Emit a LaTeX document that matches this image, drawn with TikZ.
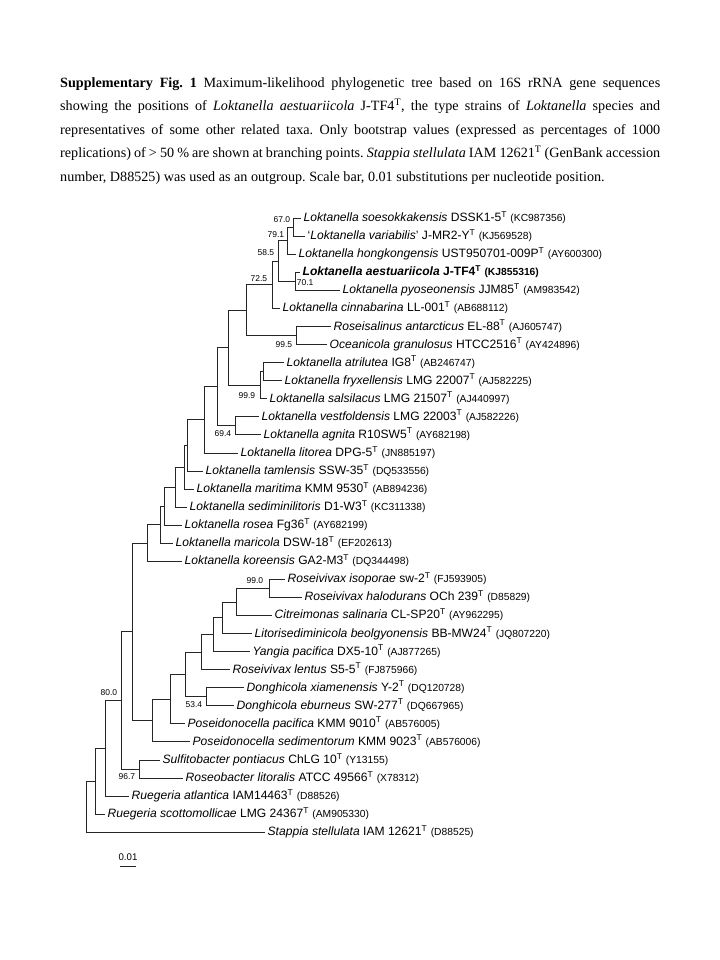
\documentclass[tikz,border=0pt]{standalone}
\usepackage{fontspec}
\setmainfont{Liberation Serif}
\setsansfont{Liberation Sans}
\usetikzlibrary{positioning,calc}

\newcommand{\Ts}{\textsuperscript{T}}
\newcommand{\accno}[1]{{\fontsize{8.5}{9}\selectfont(#1)}}

\begin{document}
\begin{tikzpicture}[
    x=0.8267pt, y=-0.8267pt,
    font=\sffamily\fontsize{10}{12}\selectfont,
    captionNode/.style={
        anchor=north west, inner sep=0pt, text width=496pt, align=justify,
        font=\rmfamily\fontsize{11.7}{19.5}\selectfont
    },
    taxonNode/.style={
        anchor=west, inner xsep=2pt, inner ysep=0pt,
        text height=7.5pt, text depth=1.5pt
    },
    bootLabel/.style={
        inner sep=0.5pt, font=\sffamily\fontsize{7}{8}\selectfont
    },
    branchLine/.style={
        line width=0.5pt, draw=black!85
    }
]
\useasboundingbox (0,0) rectangle (720,960);

% Caption
\node[captionNode] (caption) at (60,77) {\frenchspacing\hyphenpenalty=10000\relax
    \textbf{Supplementary Fig. 1} Maximum-likelihood phylogenetic tree based on 16S rRNA gene sequences\linebreak
    showing the positions of \textit{Loktanella aestuariicola} J-TF4\textsuperscript{T}, the type strains of \textit{Loktanella} species and\linebreak
    representatives of some other related taxa. Only bootstrap values (expressed as percentages of 1000\linebreak
    replications) of > 50 \% are shown at branching points. \textit{Stappia stellulata} IAM 12621\textsuperscript{T} (GenBank accession\linebreak
    number, D88525) was used as an outgroup. Scale bar, 0.01 substitutions per nucleotide position.};

% Leaves: Loktanella clade
\node[taxonNode] (soe)   at (301,218.0) {\textit{Loktanella soesokkakensis} DSSK1-5\Ts{} \accno{KC987356}};
\node[taxonNode] (var)   at (305,236.1) {‘\textit{Loktanella variabilis}’ J-MR2-Y\Ts{} \accno{KJ569528}};
\node[taxonNode] (hong)  at (296,254.1) {\textit{Loktanella hongkongensis} UST950701-009P\Ts{} \accno{AY600300}};
\node[taxonNode] (aest)  at (300,272.2) {\textbf{\textit{Loktanella aestuariicola} J-TF4\Ts{} \accno{KJ855316}}};
\node[taxonNode] (pyo)   at (340,290.2) {\textit{Loktanella pyoseonensis} JJM85\Ts{} \accno{AM983542}};
\node[taxonNode] (cinn)  at (280,308.3) {\textit{Loktanella cinnabarina} LL-001\Ts{} \accno{AB688112}};
\node[taxonNode] (rant)  at (331,326.4) {\textit{Roseisalinus antarcticus} EL-88\Ts{} \accno{AJ605747}};
\node[taxonNode] (ogra)  at (327,344.4) {\textit{Oceanicola granulosus} HTCC2516\Ts{} \accno{AY424896}};
\node[taxonNode] (atri)  at (284,362.5) {\textit{Loktanella atrilutea} IG8\Ts{} \accno{AB246747}};
\node[taxonNode] (fryx)  at (282,380.5) {\textit{Loktanella fryxellensis} LMG 22007\Ts{} \accno{AJ582225}};
\node[taxonNode] (sals)  at (267,398.6) {\textit{Loktanella salsilacus} LMG 21507\Ts{} \accno{AJ440997}};
\node[taxonNode] (vest)  at (259,416.7) {\textit{Loktanella vestfoldensis} LMG 22003\Ts{} \accno{AJ582226}};
\node[taxonNode] (agni)  at (261,434.7) {\textit{Loktanella agnita} R10SW5\Ts{} \accno{AY682198}};
\node[taxonNode] (lito)  at (238,452.8) {\textit{Loktanella litorea} DPG-5\Ts{} \accno{JN885197}};
\node[taxonNode] (taml)  at (203,470.8) {\textit{Loktanella tamlensis} SSW-35\Ts{} \accno{DQ533556}};
\node[taxonNode] (mari)  at (194,488.9) {\textit{Loktanella maritima} KMM 9530\Ts{} \accno{AB894236}};
\node[taxonNode] (sedi)  at (187,507.0) {\textit{Loktanella sediminilitoris} D1-W3\Ts{} \accno{KC311338}};
\node[taxonNode] (rose)  at (182,525.0) {\textit{Loktanella rosea} Fg36\Ts{} \accno{AY682199}};
\node[taxonNode] (maric) at (173,543.1) {\textit{Loktanella maricola} DSW-18\Ts{} \accno{EF202613}};
\node[taxonNode] (kore)  at (182,561.1) {\textit{Loktanella koreensis} GA2-M3\Ts{} \accno{DQ344498}};

% Leaves: other genera
\node[taxonNode] (riso)  at (285,579.2) {\textit{Roseivivax isoporae} sw-2\Ts{} \accno{FJ593905}};
\node[taxonNode] (rhal)  at (302,597.3) {\textit{Roseivivax halodurans} OCh 239\Ts{} \accno{D85829}};
\node[taxonNode] (csal)  at (272,615.3) {\textit{Citreimonas salinaria} CL-SP20\Ts{} \accno{AY962295}};
\node[taxonNode] (lbeo)  at (252,633.4) {\textit{Litorisediminicola beolgyonensis} BB-MW24\Ts{} \accno{JQ807220}};
\node[taxonNode] (ypac)  at (250,651.4) {\textit{Yangia pacifica} DX5-10\Ts{} \accno{AJ877265}};
\node[taxonNode] (rlen)  at (230,669.5) {\textit{Roseivivax lentus} S5-5\Ts{} \accno{FJ875966}};
\node[taxonNode] (dxia)  at (244,687.6) {\textit{Donghicola xiamenensis} Y-2\Ts{} \accno{DQ120728}};
\node[taxonNode] (debu)  at (234,705.6) {\textit{Donghicola eburneus} SW-277\Ts{} \accno{DQ667965}};
\node[taxonNode] (ppac)  at (185,723.7) {\textit{Poseidonocella pacifica} KMM 9010\Ts{} \accno{AB576005}};
\node[taxonNode] (psed)  at (190,741.7) {\textit{Poseidonocella sedimentorum} KMM 9023\Ts{} \accno{AB576006}};
\node[taxonNode] (spon)  at (160,759.8) {\textit{Sulfitobacter pontiacus} ChLG 10\Ts{} \accno{Y13155}};
\node[taxonNode] (rlit)  at (183,777.9) {\textit{Roseobacter litoralis} ATCC 49566\Ts{} \accno{X78312}};
\node[taxonNode] (ratl)  at (129,795.9) {\textit{Ruegeria atlantica} IAM14463\Ts{} \accno{D88526}};
\node[taxonNode] (rsco)  at (105,814.0) {\textit{Ruegeria scottomollicae} LMG 24367\Ts{} \accno{AM905330}};
\node[taxonNode] (sste)  at (265,832.0) {\textit{Stappia stellulata} IAM 12621\Ts{} \accno{D88525}};

% Internal branching points
\coordinate (n67) at (293,227.05);
\coordinate (n79) at (287.3,240.6);
\coordinate (n70) at (295,281.2);
\coordinate (n58) at (278.3,260.9);
\coordinate (n72) at (272.7,284.6);
\coordinate (n995) at (296.7,335.4);
\coordinate (nV) at (246.7,310.0);
\coordinate (nW) at (263.3,371.5);
\coordinate (n999) at (260,385.05);
\coordinate (nU) at (228,347.5);
\coordinate (n69) at (235.7,425.7);
\coordinate (nT) at (217.7,386.6);
\coordinate (nS) at (204,419.7);
\coordinate (nR) at (187.3,445.25);
\coordinate (nQ) at (184.3,467.1);
\coordinate (nP) at (175.3,487.0);
\coordinate (nO) at (164,506.0);
\coordinate (nN) at (160.7,524.55);
\coordinate (nL) at (147.7,542.8);
\coordinate (n990) at (269,588.25);
\coordinate (nM) at (236.7,601.8);
\coordinate (nK) at (222.7,617.6);
\coordinate (nJ) at (213.3,634.5);
\coordinate (nI) at (201,652.0);
\coordinate (n53) at (206.7,696.6);
\coordinate (nH) at (185.7,674.3);
\coordinate (nG) at (170.7,699.0);
\coordinate (nF) at (152.5,720.35);
\coordinate (nD) at (132.3,631.6);
\coordinate (n96) at (139.3,768.85);
\coordinate (nC) at (121.7,700.2);
\coordinate (nB) at (105,748.05);
\coordinate (nA) at (95,781.0);
\coordinate (root) at (86,806.5);

% Branches
\draw[branchLine] (n67) |- (soe.west) (n67) |- (var.west);
\draw[branchLine] (n79) |- (n67) (n79) |- (hong.west);
\draw[branchLine] (n70) |- (aest.west) (n70) |- (pyo.west);
\draw[branchLine] (n58) |- (n79) (n58) |- (n70);
\draw[branchLine] (n72) |- (n58) (n72) |- (cinn.west);
\draw[branchLine] (n995) |- (rant.west) (n995) |- (ogra.west);
\draw[branchLine] (nV) |- (n72) (nV) |- (n995);
\draw[branchLine] (nW) |- (atri.west) (nW) |- (fryx.west);
\draw[branchLine] (n999) |- (nW) (n999) |- (sals.west);
\draw[branchLine] (nU) |- (nV) (nU) |- (n999);
\draw[branchLine] (n69) |- (vest.west) (n69) |- (agni.west);
\draw[branchLine] (nT) |- (nU) (nT) |- (n69);
\draw[branchLine] (nS) |- (nT) (nS) |- (lito.west);
\draw[branchLine] (nR) |- (nS) (nR) |- (taml.west);
\draw[branchLine] (nQ) |- (nR) (nQ) |- (mari.west);
\draw[branchLine] (nP) |- (nQ) (nP) |- (sedi.west);
\draw[branchLine] (nO) |- (nP) (nO) |- (rose.west);
\draw[branchLine] (nN) |- (nO) (nN) |- (maric.west);
\draw[branchLine] (nL) |- (nN) (nL) |- (kore.west);

\draw[branchLine] (n990) |- (riso.west) (n990) |- (rhal.west);
\draw[branchLine] (nM) |- (n990) (nM) |- (csal.west);
\draw[branchLine] (nK) |- (nM) (nK) |- (lbeo.west);
\draw[branchLine] (nJ) |- (nK) (nJ) |- (ypac.west);
\draw[branchLine] (nI) |- (nJ) (nI) |- (rlen.west);
\draw[branchLine] (n53) |- (dxia.west) (n53) |- (debu.west);
\draw[branchLine] (nH) |- (nI) (nH) |- (n53);
\draw[branchLine] (nG) |- (nH) (nG) |- (ppac.west);
\draw[branchLine] (nF) |- (nG) (nF) |- (psed.west);
\draw[branchLine] (nD) |- (nL) (nD) |- (nF);
\draw[branchLine] (n96) |- (spon.west) (n96) |- (rlit.west);
\draw[branchLine] (nC) |- (nD) (nC) |- (n96);
\draw[branchLine] (nB) |- (nC) (nB) |- (ratl.west);
\draw[branchLine] (nA) |- (nB) (nA) |- (rsco.west);
\draw[branchLine] (root) |- (nA) (root) |- (sste.west);

% Bootstrap values
\node[bootLabel, anchor=east] (b67) at (291,219.5) {67.0};
\node[bootLabel, anchor=east] (b79) at (285,235) {79.1};
\node[bootLabel, anchor=east] (b58) at (275,253) {58.5};
\node[bootLabel, anchor=east] (b72) at (268,279) {72.5};
\node[bootLabel, anchor=west] (b70) at (296,283) {70.1};
\node[bootLabel, anchor=east] (b995) at (293,345) {99.5};
\node[bootLabel, anchor=east] (b999) at (256,396) {99.9};
\node[bootLabel, anchor=east] (b69) at (232,434) {69.4};
\node[bootLabel, anchor=east] (b990) at (264,581) {99.0};
\node[bootLabel, anchor=east] (b53) at (203,705) {53.4};
\node[bootLabel, anchor=east] (b80) at (118,693) {80.0};
\node[bootLabel, anchor=east] (b96) at (136,777) {96.7};

% Scale bar
\coordinate (barL) at (120,866);
\coordinate (barR) at (136,866);
\draw[branchLine] (barL) -- (barR);
\node[inner sep=1pt, anchor=south, font=\sffamily\fontsize{8}{9}\selectfont] (barText) at ($(barL)!0.5!(barR)+(0,-4)$) {0.01};

\end{tikzpicture}
\end{document}
